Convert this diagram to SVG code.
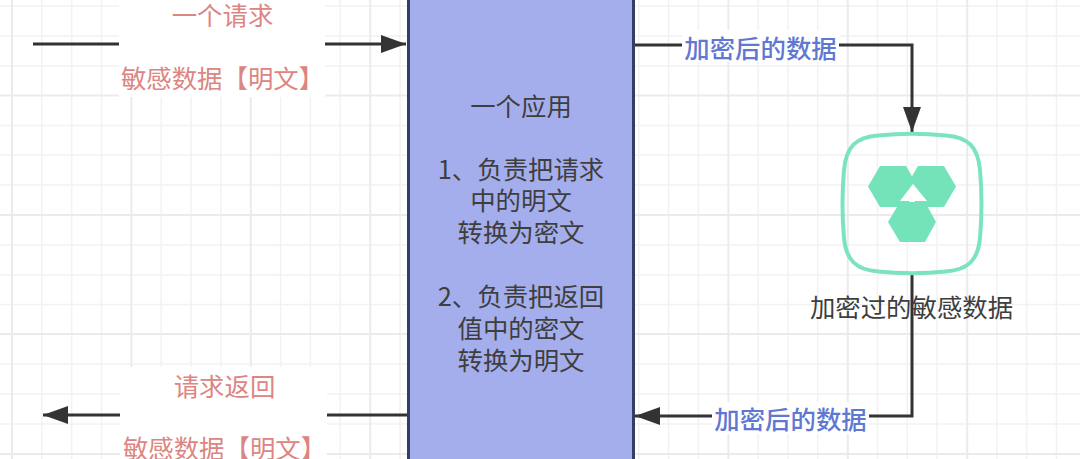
<svg xmlns="http://www.w3.org/2000/svg" width="1080" height="459" viewBox="0 0 1080 459">
<style>
text{font-family:"Noto Sans CJK SC","Noto Sans",sans-serif;font-size:25.4px;text-anchor:middle}
.red{fill:#dc8582}.blue{fill:#5f78d2}.dark{fill:#3e3e3e}
.g{stroke:#f2f2f2;stroke-width:1.5;fill:none}.gs{stroke:#ebebeb;stroke-width:2;fill:none}
.c{stroke:#333;stroke-width:3;fill:none}
.h{fill:#74e3ba}
</style>
<defs><marker id="a" markerUnits="userSpaceOnUse" markerWidth="26" markerHeight="20" refX="25" refY="10" orient="auto"><path d="M0 1L25 10L0 19z" fill="#333"/></marker></defs>
<rect width="1080" height="459" fill="#fff"/>
<g id="grid">
<path class="g" d="M41.8 0V459M71.7 0V459M101.5 0V459M161.2 0V459M191 0V459M220.9 0V459M280.6 0V459M310.4 0V459M340.2 0V459M400 0V459M429.8 0V459M459.7 0V459M519.4 0V459M549.2 0V459M579 0V459M638.7 0V459M668.6 0V459M698.4 0V459M758.1 0V459M787.9 0V459M817.7 0V459M877.4 0V459M907.3 0V459M937.1 0V459M996.8 0V459M1026.7 0V459M1056.5 0V459M0 6H1080M0 36H1080M0 66H1080M0 125.4H1080M0 155H1080M0 185H1080M0 245H1080M0 275H1080M0 304.5H1080M0 364H1080M0 394H1080M0 424H1080"/>
<path class="gs" d="M12 0V459M131.4 0V459M250.8 0V459M370.2 0V459M489.6 0V459M609 0V459M728.4 0V459M847.8 0V459M967.2 0V459M0 95.5H1080M0 215H1080M0 334H1080M0 454H1080"/>
</g>
<g id="connectors">
<path class="c" d="M33 44H406" marker-end="url(#a)"/>
<path class="c" d="M407 415H43" marker-end="url(#a)"/>
<path class="c" d="M634 45H912V132" marker-end="url(#a)"/>
<path class="c" d="M912 274V416H635" marker-end="url(#a)"/>
</g>
<g id="label-request">
<rect x="119" y="-2" width="206" height="99" fill="#fff"/>
<text class="red" x="222.500" y="25">一个请求</text>
<text class="red" x="222.500" y="88">敏感数据【明文】</text>
</g>
<g id="label-response">
<rect x="120" y="367" width="207" height="94" fill="#fff"/>
<text class="red" x="224.500" y="396">请求返回</text>
<text class="red" x="224.500" y="458">敏感数据【明文】</text>
</g>
<g id="label-encrypted-top">
<rect x="682" y="30" width="157" height="32" fill="#fff"/>
<text class="blue" x="760.500" y="58" style="font-weight:500">加密后的数据</text>
</g>
<g id="label-encrypted-bottom">
<rect x="712" y="402" width="157" height="32" fill="#fff"/>
<text class="blue" x="790.500" y="429" style="font-weight:500">加密后的数据</text>
</g>
<g id="app">
<rect x="408.500" y="-6" width="225" height="475" fill="#a4aeec" stroke="#333f62" stroke-width="3"/>
<text class="dark" x="521" y="116">一个应用</text>
<text class="dark" x="521" y="179">1、负责把请求</text>
<text class="dark" x="521" y="210">中的明文</text>
<text class="dark" x="521" y="242">转换为密文</text>
<text class="dark" x="521" y="306">2、负责把返回</text>
<text class="dark" x="521" y="338">值中的密文</text>
<text class="dark" x="521" y="370">转换为明文</text>
</g>
<g id="encrypted-data">
<path d="M878 135.500Q912 132 946 135.500C968 137 978 147 980 170Q983 204 980 238C978 260 968 270 946 271.500Q912 275 878 271.500C856 270 846 260 844 238Q841 204 844 170C846 147 856 137 878 135.500Z" fill="none" stroke="#7ce3bf" stroke-width="4"/>
<path class="h" d="M880 166H906L918 186.500L906 207H880L868 186.500Z"/>
<path class="h" d="M918 166H944L956 186.500L944 207H918L906 186.500Z"/>
<path class="h" d="M900 202H925L936 222L925 242H900L888 222Z"/>
<path d="M913 184L927 201H900Z" fill="#fff"/>
<text class="dark" x="911.500" y="317">加密过的敏感数据</text>
</g>
</svg>
